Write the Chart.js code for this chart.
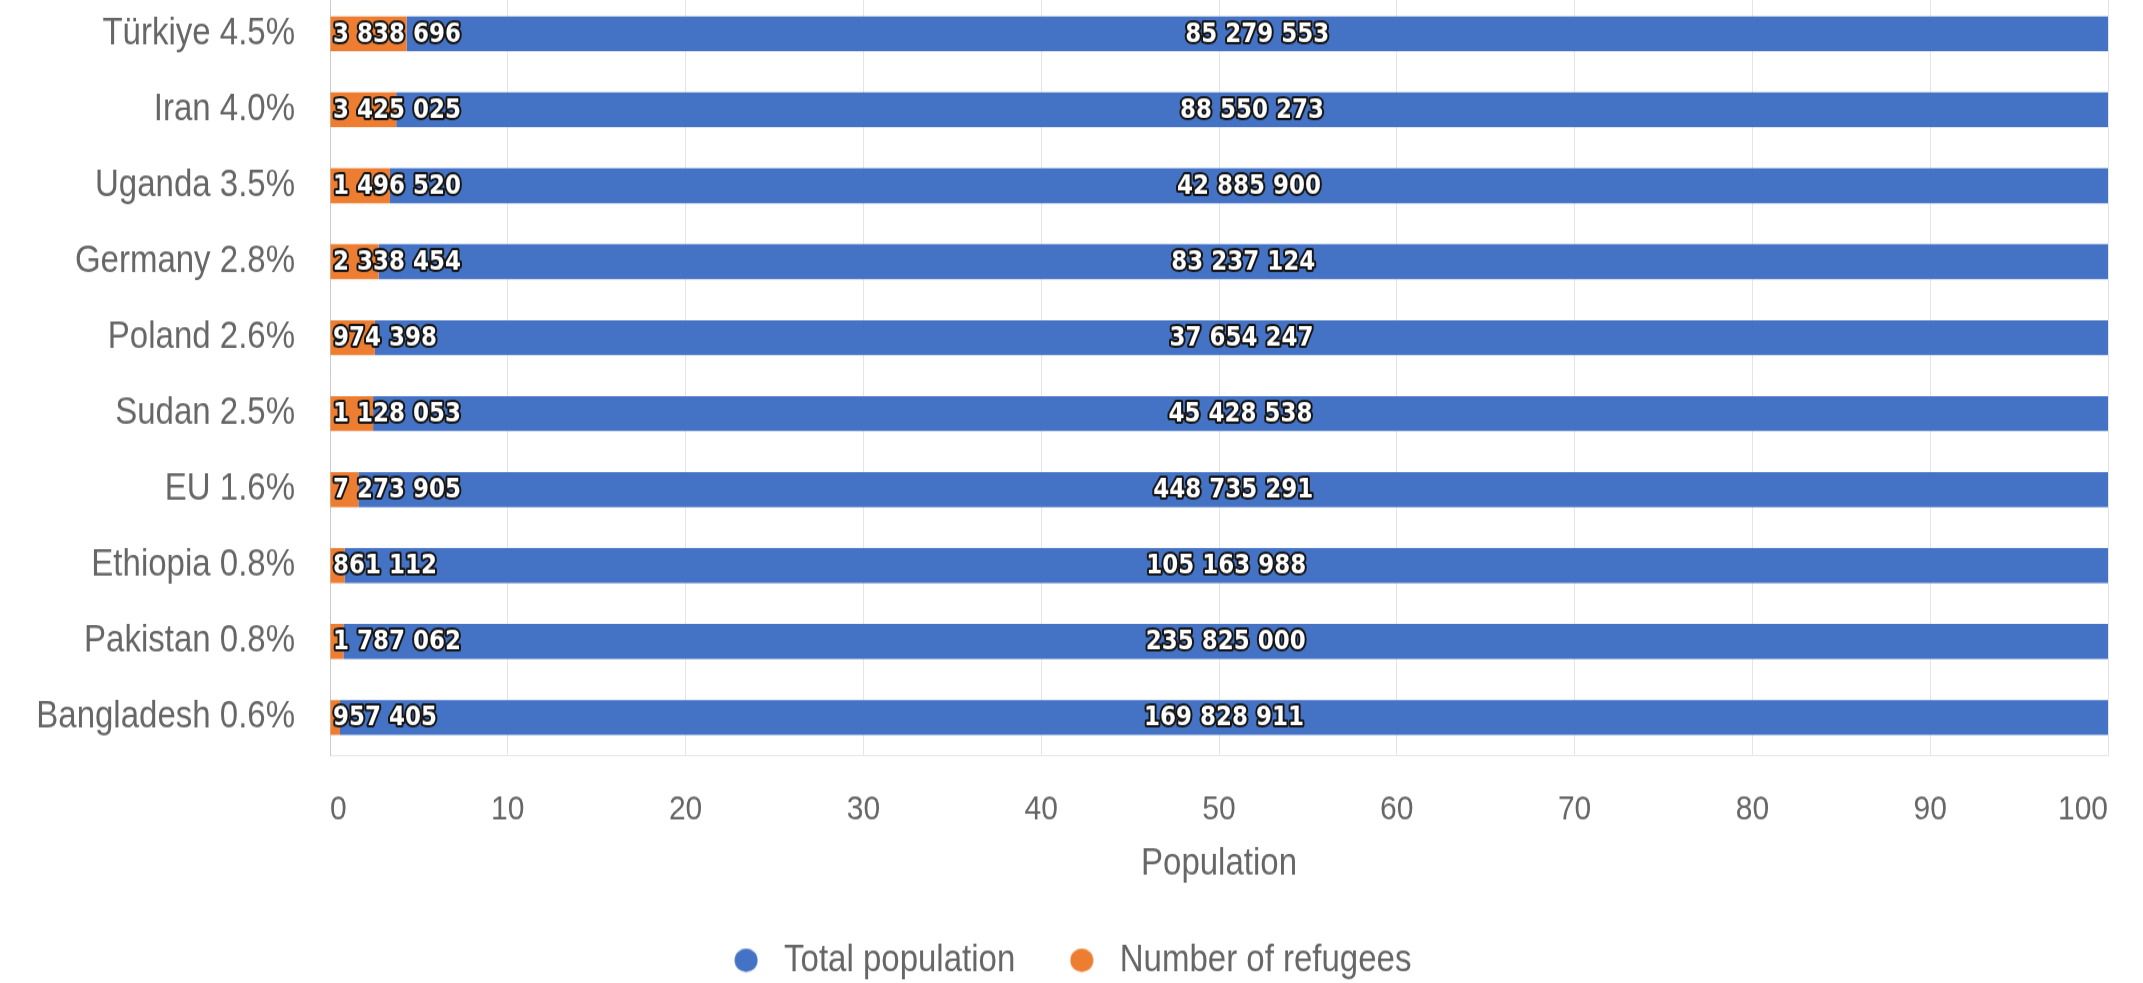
<!DOCTYPE html>
<html>
<head>
<meta charset="utf-8">
<script src="https://cdn.jsdelivr.net/npm/chart.js@4.4.1/dist/chart.umd.min.js"></script>
<style>
html,body{margin:0;padding:0;background:#fff;overflow:hidden;width:2143px;height:983px;}
#wrap{position:absolute;left:0;top:-27px;width:2143px;height:885px;transform:scaleY(1.15);transform-origin:0 0;}
canvas{display:block;}
</style>
</head>
<body>
<div id="wrap"><canvas id="c" width="2143" height="885"></canvas></div>
<script>
// ---- data ----
const countries = ['Türkiye','Iran','Uganda','Germany','Poland','Sudan','EU','Ethiopia','Pakistan','Bangladesh'];
const shareLabels = ['4.5%','4.0%','3.5%','2.8%','2.6%','2.5%','1.6%','0.8%','0.8%','0.6%'];
const refugees = [3838696, 3425025, 1496520, 2338454, 974398, 1128053, 7273905, 861112, 1787062, 957405];
const totalPopulation = [85279553, 88550273, 42885900, 83237124, 37654247, 45428538, 448735291, 105163988, 235825000, 169828911];
const seriesNames = ['Number of refugees', 'Total population'];
const seriesColors = ['#ED7D31', '#4472C4'];
const xMin = 0, xMax = 100, xStep = 10;
const xTitle = 'Population';

// ---- helpers ----
const fmt = n => String(n).replace(/\B(?=(\d{3})+(?!\d))/g, ' ');
const sums = refugees.map((r, i) => r + totalPopulation[i]);
const refShare = refugees.map((r, i) => r / sums[i] * 100);
const totShare = totalPopulation.map((t, i) => t / sums[i] * 100);
const yLabels = countries.map((c, i) => c + ' ' + shareLabels[i]);

function dot(color) {
  const c = document.createElement('canvas');
  c.width = 24; c.height = 22;
  const g = c.getContext('2d');
  g.fillStyle = color;
  g.beginPath();
  g.ellipse(12, 11, 11.5, 10.2, 0, 0, Math.PI * 2);
  g.fill();
  return c;
}

const barLabels = {
  id: 'barLabels',
  afterDatasetsDraw(chart) {
    const ctx = chart.ctx;
    const area = chart.chartArea;
    ctx.save();
    ctx.font = 'bold 23px "DejaVu Sans"';
    ctx.textBaseline = 'middle';
    ctx.lineJoin = 'round';
    ctx.lineWidth = 4;
    ctx.strokeStyle = '#151515';
    ctx.fillStyle = '#ffffff';
    chart.data.datasets.forEach((ds, di) => {
      const meta = chart.getDatasetMeta(di);
      meta.data.forEach((el, i) => {
        const txt = fmt(ds.rawValues[i]);
        let x;
        if (ds.labelAlign === 'start') {
          ctx.textAlign = 'left';
          x = area.left + 3;
        } else {
          ctx.textAlign = 'center';
          x = (el.x + el.base) / 2;
        }
        ctx.strokeText(txt, x, el.y + 1);
        ctx.fillText(txt, x, el.y + 1);
      });
    });
    ctx.restore();
  }
};

new Chart(document.getElementById('c'), {
  type: 'bar',
  data: {
    labels: yLabels,
    datasets: [
      {
        label: seriesNames[0],
        data: refShare,
        rawValues: refugees,
        labelAlign: 'start',
        backgroundColor: seriesColors[0],
        pointStyle: dot(seriesColors[0]),
        borderWidth: 0,
        categoryPercentage: 0.8,
        barPercentage: 0.575
      },
      {
        label: seriesNames[1],
        data: totShare,
        rawValues: totalPopulation,
        labelAlign: 'center',
        backgroundColor: seriesColors[1],
        pointStyle: dot(seriesColors[1]),
        borderWidth: 0,
        categoryPercentage: 0.8,
        barPercentage: 0.575
      }
    ]
  },
  options: {
    indexAxis: 'y',
    responsive: false,
    animation: false,
    devicePixelRatio: 1,
    layout: { padding: { left: 28, right: 35, top: 0, bottom: 0 } },
    scales: {
      x: {
        type: 'linear',
        stacked: true,
        min: xMin,
        max: xMax,
        ticks: {
          stepSize: xStep,
          align: 'inner',
          padding: 0,
          color: '#666',
          font: { family: '"Liberation Sans", Arial, sans-serif', size: 30 }
        },
        grid: { color: 'rgba(0,0,0,0.1)', drawTicks: true, tickLength: 29, tickColor: 'rgba(0,0,0,0)' },
        border: { display: true, color: 'rgba(0,0,0,0.1)' },
        title: {
          display: true,
          text: xTitle,
          color: '#666',
          padding: { top: 10, bottom: 2 },
          font: { family: '"Liberation Sans", Arial, sans-serif', size: 33 }
        }
      },
      y: {
        type: 'category',
        stacked: true,
        grid: { display: true, color: 'rgba(0,0,0,0)', drawOnChartArea: false, drawTicks: true, tickLength: 35, tickColor: 'rgba(0,0,0,0)' },
        border: { display: true, color: 'rgba(0,0,0,0.12)' },
        ticks: {
          padding: 0,
          color: '#666',
          font: { family: '"Liberation Sans", Arial, sans-serif', size: 33 }
        },
        afterFit(scale) { scale.width = 302; }
      }
    },
    plugins: {
      legend: {
        position: 'bottom',
        reverse: true,
        labels: {
          usePointStyle: true,
          pointStyleWidth: 43,
          padding: 45,
          color: '#666',
          font: { family: '"Liberation Sans", Arial, sans-serif', size: 33 }
        }
      },
      tooltip: { enabled: false }
    }
  },
  plugins: [barLabels]
});
</script>
</body>
</html>
